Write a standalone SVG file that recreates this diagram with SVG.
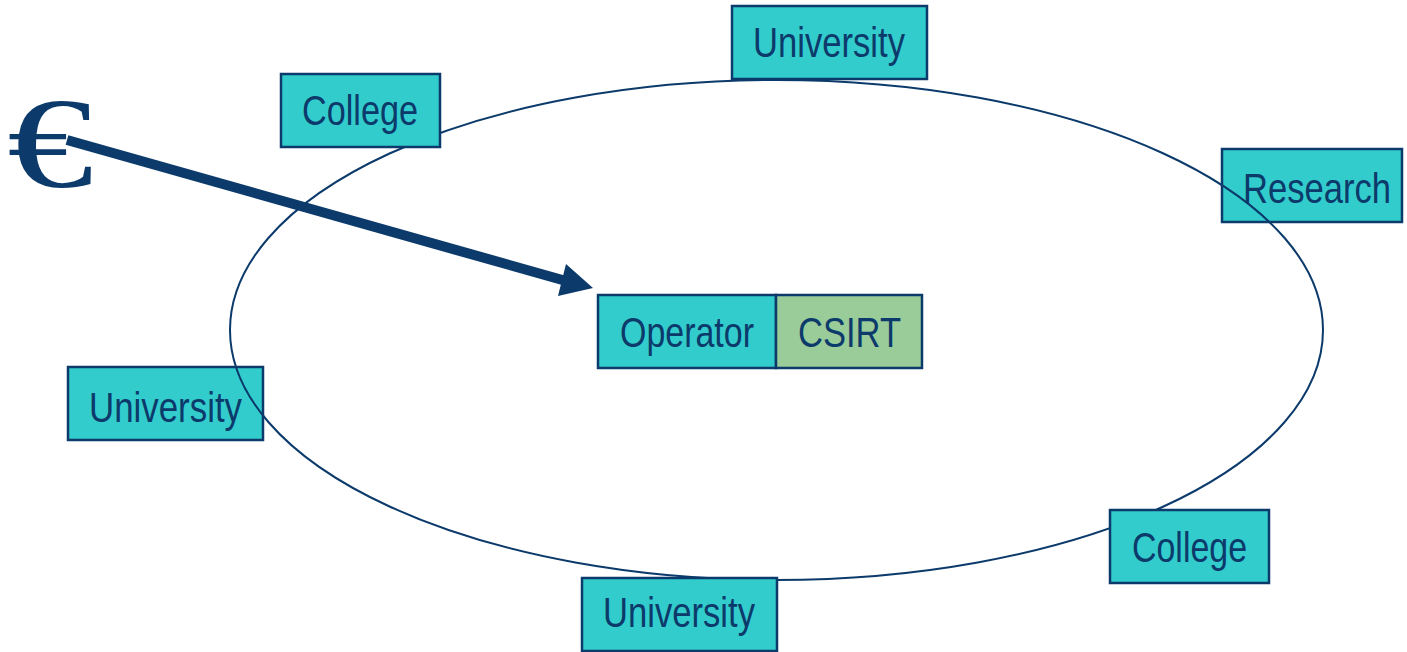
<svg xmlns="http://www.w3.org/2000/svg" width="1407" height="652" viewBox="0 0 1407 652">
<style>
.box{fill:#33CCCC;stroke:#0B3A6B;stroke-width:2.5}
.green{fill:#99CC99;stroke:#0B3A6B;stroke-width:2.5}
.lbl{font-family:"Liberation Sans",Arial,sans-serif;font-size:43px;fill:#0B3A6B}
.ring{fill:none;stroke:#0B3A6B;stroke-width:2}
</style>
<rect width="1407" height="652" fill="#FFFFFF"/>
<g id="research">
<rect class="box" x="1222" y="149" width="180" height="73"/>
<text class="lbl" x="1243" y="203" textLength="148" lengthAdjust="spacingAndGlyphs">Research</text>
</g>
<g id="university-left">
<rect class="box" x="68" y="367" width="195" height="73"/>
<text class="lbl" x="89" y="422" textLength="153" lengthAdjust="spacingAndGlyphs">University</text>
</g>
<g id="ring">
<ellipse class="ring" cx="776.5" cy="330" rx="546.5" ry="250"/>
</g>
<g id="college-top">
<rect class="box" x="281" y="74" width="159" height="73"/>
<text class="lbl" x="302" y="125" textLength="116" lengthAdjust="spacingAndGlyphs">College</text>
</g>
<g id="university-top">
<rect class="box" x="732" y="6" width="195" height="73"/>
<text class="lbl" x="753" y="57" textLength="152" lengthAdjust="spacingAndGlyphs">University</text>
</g>
<g id="college-bottom">
<rect class="box" x="1110" y="510" width="159" height="73"/>
<text class="lbl" x="1132" y="562" textLength="115" lengthAdjust="spacingAndGlyphs">College</text>
</g>
<g id="university-bottom">
<rect class="box" x="582" y="578" width="195" height="73"/>
<text class="lbl" x="603" y="627" textLength="152" lengthAdjust="spacingAndGlyphs">University</text>
</g>
<g id="operator">
<rect class="box" x="598" y="295" width="178" height="73"/>
<text class="lbl" x="620" y="347" textLength="134" lengthAdjust="spacingAndGlyphs">Operator</text>
</g>
<g id="csirt">
<rect class="green" x="776" y="295" width="146" height="73"/>
<text class="lbl" x="798" y="347" textLength="103" lengthAdjust="spacingAndGlyphs">CSIRT</text>
</g>
<g id="euro">
<text transform="translate(7,187) scale(1.33,1)" x="0" y="0" style="font-family:'Liberation Serif','Times New Roman',serif;font-size:130px;fill:#0B3A6B">€</text>
</g>
<g id="connectors">
<line x1="67" y1="140" x2="566" y2="281" stroke="#0B3A6B" stroke-width="10"/>
<polygon points="593,288 558,296 566,264" fill="#0B3A6B"/>
</g>
</svg>
